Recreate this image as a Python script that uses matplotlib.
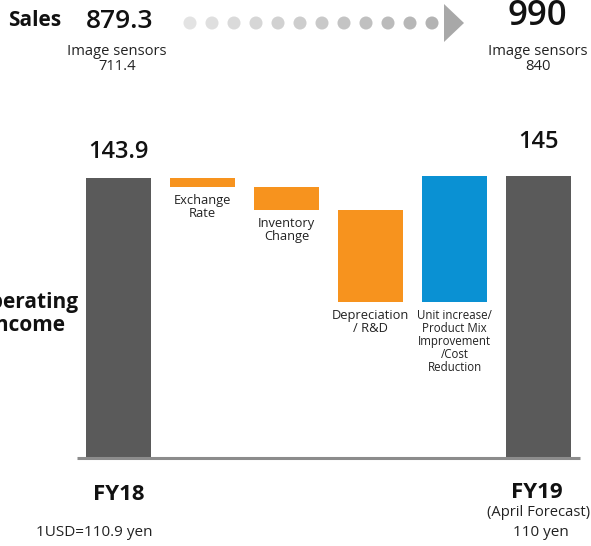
import numpy as np
import matplotlib.pyplot as plt
from matplotlib.patches import Polygon

plt.rcParams['font.family'] = ['Open Sans', 'DejaVu Sans']

# data
start_label = 'FY18'
end_label = 'FY19'
start_value = 143.9
end_value = 145
step_labels = ['Exchange\nRate', 'Inventory\nChange', 'Depreciation\n/ R&D',
               'Unit increase/\nProduct Mix\nImprovement\n/Cost\nReduction']
step_values = [-4.6, -11.8, -47.3, 64.8]
step_colors = ['#f7931e', '#f7931e', '#f7931e', '#0a91d3']
sales_fy18 = '879.3'
sales_fy19 = '990'
sensors_fy18 = '711.4'
sensors_fy19 = '840'

fig = plt.figure(figsize=(5.91, 5.46), dpi=100)

# main waterfall axes
ax = fig.add_axes([0, 0, 1, 1])
ax.set_xlim(-1.411, 5.625)
ax.set_ylim(-45.2, 235.3)
ax.axis('off')

w = 0.775
gray = '#5a5a5a'
ax.bar(0, start_value, width=w, color=gray)
level = start_value
for i, (v, c, lab) in enumerate(zip(step_values, step_colors, step_labels)):
    x = i + 1
    bottom = level + min(v, 0)
    ax.bar(x, abs(v), bottom=bottom, width=w, color=c)
    fs = 8.3 if i == 3 else 9.3
    ax.annotate(lab, (x, bottom), xytext=(0, -5), textcoords='offset points',
                ha='center', va='top', fontsize=fs, color='#222222',
                linespacing=1.0)
    level += v
ax.bar(5, end_value, width=w, color=gray)

ax.annotate(f'{start_value:.1f}', (0, start_value), xytext=(0, 19),
            textcoords='offset points', ha='center', va='center',
            fontsize=17, fontweight='semibold', color='#111111')
ax.annotate(f'{end_value:g}', (5, end_value), xytext=(0, 24),
            textcoords='offset points', ha='center', va='center',
            fontsize=17, fontweight='semibold', color='#111111')

ax.hlines(0, -0.495, 5.49, color='#8c8c8c', lw=2.2)

# overlay in pixel coordinates for header / footer
ov = fig.add_axes([0, 0, 1, 1])
ov.set_xlim(0, 591)
ov.set_ylim(546, 0)
ov.axis('off')
ov.patch.set_alpha(0)

ov.text(8, 20, 'Sales', fontsize=15, fontweight='bold', va='center', ha='left',
        color='#111111')
ov.text(119.5, 21, sales_fy18, fontsize=19, fontweight='semibold',
        va='center', ha='center', color='#111111')
ov.text(537, 16, sales_fy19, fontsize=25, fontweight='semibold',
        va='center', ha='center', color='#111111')
ov.text(117, 59, 'Image sensors\n' + sensors_fy18, fontsize=10.6, va='center',
        ha='center', color='#222222', linespacing=1.0)
ov.text(538, 59, 'Image sensors\n' + sensors_fy19, fontsize=10.6, va='center',
        ha='center', color='#222222', linespacing=1.0)

dot_x = np.arange(12) * 22 + 190
dot_c = [str(g) for g in np.linspace(0.89, 0.70, 12)]
ov.scatter(dot_x, np.full(12, 23), s=88, c=dot_c, edgecolors='none')
ov.add_patch(Polygon([[444, 4], [444, 42], [464, 23]], closed=True,
                     color='#a8a8a8', lw=0))

ov.text(79, 314, 'Operating\nIncome', fontsize=15, fontweight='bold',
        ha='right', va='center', multialignment='center', color='#111111',
        linespacing=1.1)

ov.text(119, 494, start_label, fontsize=16, fontweight='bold', ha='center',
        va='center', color='#111111')
ov.text(537, 493, end_label, fontsize=16, fontweight='bold', ha='center',
        va='center', color='#111111')
ov.text(539, 512, '(April Forecast)', fontsize=10.6, ha='center', va='center',
        color='#222222')
ov.text(94, 533, '1USD=110.9 yen', fontsize=11, ha='center', va='center',
        color='#222222')
ov.text(541, 533, '110 yen', fontsize=11, ha='center', va='center',
        color='#222222')

fig.savefig('out.png', dpi=100)
